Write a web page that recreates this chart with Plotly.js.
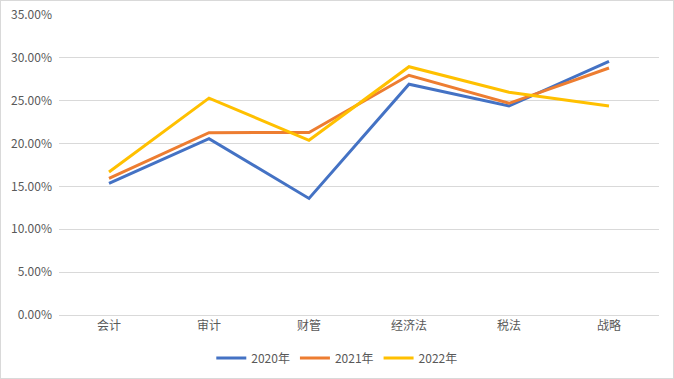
<!DOCTYPE html>
<html>
<head>
<meta charset="utf-8">
<script src="https://cdn.plot.ly/plotly-3.0.1.min.js"></script>
<style>
html,body{margin:0;padding:0;background:#fff;}
#chart{width:674px;height:379px;box-sizing:border-box;border:1px solid #d9d9d9;}
</style>
</head>
<body>
<div id="chart"></div>
<script>
var categories = ['会计', '审计', '财管', '经济法', '税法', '战略'];
var seriesNames = ['2020年', '2021年', '2022年'];
var values2020 = [0.1537, 0.2057, 0.1360, 0.2692, 0.2438, 0.2960];
var values2021 = [0.1595, 0.2127, 0.2130, 0.2797, 0.2470, 0.2882];
var values2022 = [0.1668, 0.2530, 0.2038, 0.2897, 0.2598, 0.2438];
var colors = ['#4472C4', '#ED7D31', '#FFC000'];

var allValues = [values2020, values2021, values2022];
var traces = allValues.map(function (v, i) {
  return {
    type: 'scatter',
    mode: 'lines',
    x: categories,
    y: v,
    name: seriesNames[i],
    line: {color: colors[i], width: 3}
  };
});

var layout = {
  width: 672,
  height: 377,
  margin: {l: 58, r: 14, t: 14, b: 63, autoexpand: false},
  paper_bgcolor: '#ffffff',
  plot_bgcolor: '#ffffff',
  font: {family: '"Noto Sans CJK SC", "Microsoft YaHei", sans-serif', size: 12, color: '#595959'},
  showlegend: true,
  legend: {
    orientation: 'h',
    x: 0.463,
    xanchor: 'center',
    y: -0.143,
    yanchor: 'middle',
    font: {size: 12, color: '#595959'},
    itemwidth: 30
  },
  xaxis: {
    type: 'category',
    range: [-0.5, 5.5],
    showgrid: false,
    showline: true,
    linecolor: '#d9d9d9',
    linewidth: 1,
    ticks: '',
    zeroline: false,
    automargin: false,
    fixedrange: true
  },
  yaxis: {
    range: [0, 0.35],
    dtick: 0.05,
    tick0: 0,
    tickformat: '.2%',
    showgrid: true,
    gridcolor: '#d9d9d9',
    gridwidth: 1,
    zeroline: false,
    showline: false,
    ticks: '',
    ticklabelstandoff: 6,
    automargin: false,
    fixedrange: true
  }
};

Plotly.newPlot('chart', traces, layout, {displayModeBar: false, staticPlot: true});
</script>
</body>
</html>
